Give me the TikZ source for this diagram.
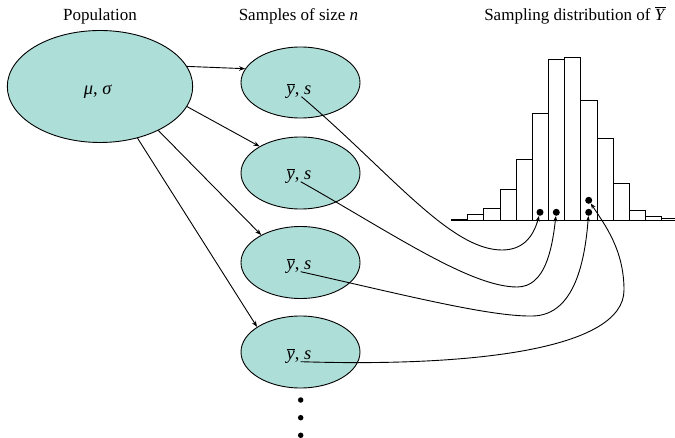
\documentclass[tikz,border=0pt]{standalone}
\usepackage{fontspec}
\setmainfont{Liberation Serif}
\usetikzlibrary{shapes.geometric,arrows.meta}
\definecolor{popfill}{RGB}{174,222,216}
\newcommand\mybar[1]{\leavevmode\vbox{\hrule height 0.9pt \kern 1.6pt \hbox{#1}}}
\begin{document}
\begin{tikzpicture}[x=1pt,y=-1pt,
  blob/.style={ellipse,draw=black,line width=0.9pt,fill=popfill,inner sep=0pt},
  lbl/.style={font=\fontsize{17}{20}\selectfont,anchor=base,inner sep=0pt},
  inl/.style={font=\fontsize{18.5}{20}\selectfont,anchor=base,inner sep=0pt},
  feed/.style={line width=0.9pt,-{Stealth[length=6pt,width=4.5pt]}},
  link/.style={line width=0.9pt,-{Stealth[length=5.5pt,width=4pt]}},
  bar/.style={draw=black,line width=0.9pt,fill=white},
  pt/.style={circle,fill=black,inner sep=0pt,minimum size=7pt},
  more/.style={circle,fill=black,inner sep=0pt,minimum size=5.5pt}]
\useasboundingbox (0,0) rectangle (675,438);

% titles
\node[lbl] (h1) at (100,20.7) {Population};
\node[lbl] (h2) at (298.5,20.7) {Samples of size \textit{n}};
\node[lbl] (h3) at (575,20.7) {Sampling distribution of \mybar{\textit{Y}}};

% population and samples
\node[blob,minimum width=185.4pt,minimum height=112pt] (pop) at (100,86.5) {};
\node[blob,minimum width=119pt,minimum height=71pt] (s1) at (300.5,82.5) {};
\node[blob,minimum width=119pt,minimum height=72pt] (s2) at (300.5,173) {};
\node[blob,minimum width=119pt,minimum height=72pt] (s3) at (300.5,262.5) {};
\node[blob,minimum width=119pt,minimum height=72pt] (s4) at (300.5,352) {};

\node[inl] (tp) at (98,95) {\textit{μ}, \textit{σ}};
\node[inl] (t1) at (299,95) {\mybar{\textit{y}}, \textit{s}};
\node[inl] (t2) at (299,180) {\mybar{\textit{y}}, \textit{s}};
\node[inl] (t3) at (299,270) {\mybar{\textit{y}}, \textit{s}};
\node[inl] (t4) at (299,360) {\mybar{\textit{y}}, \textit{s}};

\coordinate (c1) at (301.5,96.7);
\coordinate (c2) at (300.7,181.7);
\coordinate (c3) at (300.7,271.7);
\coordinate (c4) at (300.7,361.7);

\draw[feed] (pop.13) -- (s1.166);
\draw[feed] (pop.-13) -- (s2.147);
\draw[feed] (pop.-37.5) -- (s3.145);
\draw[feed] (pop.-54) -- (s4.150);

% histogram
\draw[bar] (451.7,220.3) rectangle (467.7,219.4);
\foreach \t [count=\i from 0] in {214.3,208.7,189.3,159,113.3,59,57,100,138.7,183.3,210,216.3,218.3}
  \draw[bar] ({467.7+16.17*\i},220.3) rectangle ({467.7+16.17*(\i+1)},\t);
\draw[line width=0.9pt] (451.7,220.3) -- (675,220.3);

\node[pt] (d1) at (540,212.3) {};
\node[pt] (d2) at (556.3,212.3) {};
\node[pt] (d3) at (588.7,212.3) {};
\node[pt] (d4) at (588.7,200.3) {};

% curves
\draw[link] (c1) .. controls (390,172) and (450,250) .. (502,250)
  .. controls (522,250) and (533,238) .. (d1);
\draw[link] (c2) .. controls (390,232) and (470,287) .. (517,287)
  .. controls (545,287) and (552,250) .. (d2);
\draw[link] (c3) .. controls (400,294) and (490,317) .. (533,316)
  .. controls (575,315) and (585,260) .. (d3);
\draw[link] (c4) .. controls (470,367) and (624,350) .. (624,290)
  .. controls (624,250) and (605,225) .. (d4);

% continuation dots
\node[more] (m1) at (300.7,400) {};
\node[more] (m2) at (300.7,417.7) {};
\node[more] (m3) at (300.7,435.3) {};
\end{tikzpicture}
\end{document}
